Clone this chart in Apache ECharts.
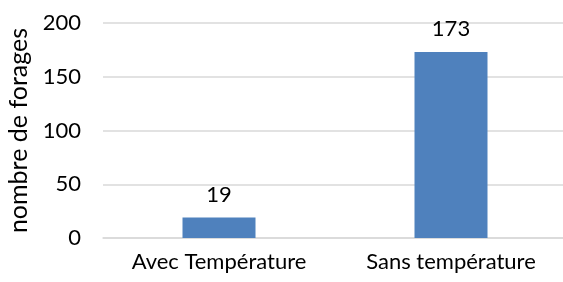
<!DOCTYPE html>
<html>
<head>
<meta charset="utf-8">
<script src="https://cdn.jsdelivr.net/npm/echarts@6/dist/echarts.min.js"></script>
<style>
  html, body { margin: 0; padding: 0; background: #fff; }
  #chart { width: 563px; height: 282px; }
</style>
</head>
<body>
<div id="chart"></div>
<script>
const categories = ['Avec Température', 'Sans température']
const forages = [19, 173]
const yTicks = [0, 50, 100, 150, 200]

const font = 'Lato, "Open Sans", sans-serif'
const chart = echarts.init(document.getElementById('chart'))

chart.setOption({
  animation: false,
  textStyle: { fontFamily: font },
  grid: { left: 103, top: 23, width: 464, bottom: 44, containLabel: false, outerBoundsMode: 'none' },
  xAxis: {
    type: 'category',
    data: categories,
    axisLine: { show: true, lineStyle: { color: '#d9d9d9', width: 1.5 } },
    axisTick: { show: false },
    axisLabel: { color: '#000', fontSize: 22, fontFamily: font, margin: 13, interval: 0 }
  },
  yAxis: {
    type: 'value',
    min: yTicks[0],
    max: yTicks[yTicks.length - 1],
    interval: 50,
    name: 'nombre de forages',
    nameLocation: 'middle',
    nameGap: 70,
    nameRotate: 90,
    nameTextStyle: { color: '#000', fontSize: 25, fontFamily: font },
    axisLine: { show: false },
    axisTick: { show: false },
    splitLine: { lineStyle: { color: '#d9d9d9', width: 1.5 } },
    axisLabel: { color: '#000', fontSize: 22, fontFamily: font, margin: 22 }
  },
  series: [{
    type: 'bar',
    data: forages,
    barWidth: 73,
    itemStyle: { color: '#4f81bd' },
    label: { show: true, position: 'top', distance: 12, color: '#000', fontSize: 22, fontFamily: font }
  }]
})
</script>
</body>
</html>
